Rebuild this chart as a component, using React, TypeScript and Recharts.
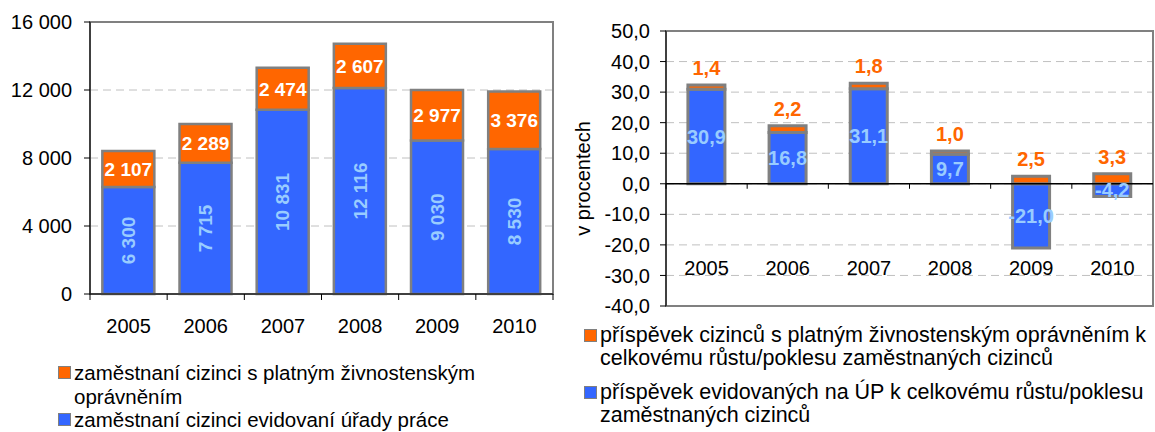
import React from "react";
import { Bar, BarChart, CartesianGrid, Label, LabelList, ReferenceArea, ReferenceLine, XAxis, YAxis } from "recharts";

const years = ["2005", "2006", "2007", "2008", "2009", "2010"];
const registeredUP = [6300, 7715, 10831, 12116, 9030, 8530];
const tradeLicence = [2107, 2289, 2474, 2607, 2977, 3376];
const contribUP = [30.9, 16.8, 31.1, 9.7, -21.0, -4.2];
const contribTrade = [1.4, 2.2, 1.8, 1.0, 2.5, 3.3];

const leftTicks = [0, 4000, 8000, 12000, 16000];
const rightTicks = [-40, -30, -20, -10, 0, 10, 20, 30, 40, 50];

const leftNames = ["zaměstnaní cizinci s platným živnostenským oprávněním", "zaměstnaní cizinci evidovaní úřady práce"];
const rightNames = [
  "příspěvek cizinců s platným živnostenským oprávněním k celkovému růstu/poklesu zaměstnaných cizinců",
  "příspěvek evidovaných na ÚP k celkovému růstu/poklesu zaměstnaných cizinců",
];

const BLUE = "#3366ff";
const ORANGE = "#ff6600";
const EDGE = "#808080";
const LIGHT = "#99ccff";
const FONT = "'Liberation Sans', Arial, sans-serif";

const leftData = years.map((year, i) => ({ year, up: registeredUP[i], trade: tradeLicence[i] }));
const rightData = years.map((year, i) => ({ year, up: contribUP[i], trade: contribTrade[i] }));

const thousands = (v: number) => String(v).replace(/\B(?=(\d{3})+(?!\d))/g, " ");
const comma = (v: number) => v.toFixed(1).replace(".", ",");

// plot sizes, used for the category boundary tick marks
const L_W = 570, L_H = 340, L_TOP = 22, L_LEFT = 90, L_RIGHT = 17, L_XH = 46;
const R_W = 585, R_H = 320, R_TOP = 31, R_LEFT = 96, R_RIGHT = 2, R_XH = 14;
const lBand = (L_W - L_LEFT - L_RIGHT) / years.length;
const rBand = (R_W - R_LEFT - R_RIGHT) / years.length;
const rPlotH = R_H - R_TOP - R_XH;
const rZeroUp = (rPlotH * (0 - rightTicks[0])) / (rightTicks[rightTicks.length - 1] - rightTicks[0]);

const LeftTick = (props: any) => {
  const { x, y, payload, index } = props;
  const base = y - 8;
  return (
    <g>
      <line x1={x - lBand / 2} x2={x - lBand / 2} y1={base} y2={base + 6} stroke="#000" />
      {index === years.length - 1 && <line x1={x + lBand / 2} x2={x + lBand / 2} y1={base} y2={base + 6} stroke="#000" />}
      <text x={x} y={y} dy={31} textAnchor="middle" fontSize={20} fill="#000" fontFamily={FONT}>
        {payload.value}
      </text>
    </g>
  );
};

const RightTick = (props: any) => {
  const { x, y, payload } = props;
  const zero = y - 8 - rZeroUp;
  return (
    <g>
      <line x1={x - rBand / 2} x2={x - rBand / 2} y1={zero} y2={zero + 5} stroke="#000" />
      <text x={x} y={y} dy={-39} textAnchor="middle" fontSize={20} fill="#000" fontFamily={FONT}>
        {payload.value}
      </text>
    </g>
  );
};

const Legend = ({ names, colors, left, top, width, fontSize, lineHeight, gap }: any) => (
  <div style={{ position: "absolute", left, top, width, fontFamily: FONT, fontSize, lineHeight: `${lineHeight}px`, color: "#000" }}>
    {names.map((n: string, i: number) => (
      <div key={n} style={{ display: "flex", alignItems: "flex-start", marginBottom: gap }}>
        <span
          style={{
            flex: "none",
            width: 11,
            height: 11,
            marginTop: (lineHeight - 14) / 2,
            marginRight: 3,
            background: colors[i],
            border: `1.5px solid ${EDGE}`,
          }}
        />
        <span>{n}</span>
      </div>
    ))}
  </div>
);

export default function App() {
  return (
    <div style={{ position: "absolute", left: 0, top: 0, width: 1155, height: 432, background: "#fff", overflow: "hidden" }}>
      <div style={{ position: "absolute", left: 0, top: 0 }}>
        <BarChart width={L_W} height={L_H} data={leftData} margin={{ top: L_TOP, right: L_RIGHT, left: 0, bottom: 0 }} barCategoryGap="16%">
          <CartesianGrid vertical={false} stroke="#c0c0c0" strokeDasharray="8 5" />
          <ReferenceArea y1={0} y2={16000} fill="none" stroke={EDGE} strokeWidth={2} ifOverflow="visible" />
          <XAxis dataKey="year" height={L_XH} tickLine={false} axisLine={{ stroke: "#000" }} tick={<LeftTick />} interval={0} />
          <YAxis
            width={L_LEFT}
            domain={[0, 16000]}
            ticks={leftTicks}
            tickFormatter={thousands}
            axisLine={{ stroke: "#000" }}
            tickLine={{ stroke: "#000" }}
            tickSize={6}
            tickMargin={12}
            tick={{ fontSize: 20, fill: "#000", fontFamily: FONT }}
          />
          <Bar dataKey="up" stackId="a" fill={BLUE} stroke={EDGE} strokeWidth={2.5} isAnimationActive={false}>
            <LabelList dataKey="up" position="center" angle={-90} formatter={(v: any) => thousands(v)} fill={LIGHT} fontSize={19} fontWeight="bold" fontFamily={FONT} />
          </Bar>
          <Bar dataKey="trade" stackId="a" fill={ORANGE} stroke={EDGE} strokeWidth={2.5} isAnimationActive={false}>
            <LabelList dataKey="trade" position="center" formatter={(v: any) => thousands(v)} fill="#fff" fontSize={19} fontWeight="bold" fontFamily={FONT} />
          </Bar>
        </BarChart>
      </div>

      <div style={{ position: "absolute", left: 570, top: 0 }}>
        <BarChart width={R_W} height={R_H} data={rightData} stackOffset="sign" margin={{ top: R_TOP, right: R_RIGHT, left: 0, bottom: 0 }} barCategoryGap="27%">
          <CartesianGrid vertical={false} stroke="#c0c0c0" strokeDasharray="8 5" />
          <ReferenceArea y1={-40} y2={50} fill="none" stroke={EDGE} strokeWidth={2} ifOverflow="visible" />
          <XAxis dataKey="year" height={R_XH} tickLine={false} axisLine={false} tick={<RightTick />} interval={0} />
          <YAxis
            width={R_LEFT}
            domain={[-40, 50]}
            ticks={rightTicks}
            tickFormatter={comma}
            axisLine={{ stroke: "#000" }}
            tickLine={{ stroke: "#000" }}
            tickSize={6}
            tickMargin={10}
            tick={{ fontSize: 20, fill: "#000", fontFamily: FONT }}
          >
            <Label
              content={(p: any) => {
                const vb = p.viewBox;
                const cx = vb.x + 13;
                const cy = vb.y + vb.height / 2 + 10;
                return (
                  <text x={cx} y={cy} transform={`rotate(-90, ${cx}, ${cy})`} textAnchor="middle" dominantBaseline="central" fontSize={20} fontFamily={FONT} fill="#000">
                    v procentech
                  </text>
                );
              }}
            />
          </YAxis>
          <ReferenceLine y={0} stroke="#000" strokeWidth={1.5} />
          <Bar dataKey="up" stackId="b" fill={BLUE} stroke={EDGE} strokeWidth={3} isAnimationActive={false}>
            <LabelList dataKey="up" position="center" formatter={(v: any) => comma(v)} fill={LIGHT} fontSize={20} fontWeight="bold" fontFamily={FONT} />
          </Bar>
          <Bar dataKey="trade" stackId="b" fill={ORANGE} stroke={EDGE} strokeWidth={3} isAnimationActive={false}>
            <LabelList dataKey="trade" position="top" offset={10} formatter={(v: any) => comma(v)} fill={ORANGE} fontSize={20} fontWeight="bold" fontFamily={FONT} />
          </Bar>
        </BarChart>
      </div>

      <Legend names={leftNames} colors={[ORANGE, BLUE]} left={58} top={361} width={470} fontSize={20.5} lineHeight={23.5} gap={0} />
      <Legend names={rightNames} colors={[ORANGE, BLUE]} left={584} top={324} width={571} fontSize={21.5} lineHeight={23} gap={11} />
    </div>
  );
}
